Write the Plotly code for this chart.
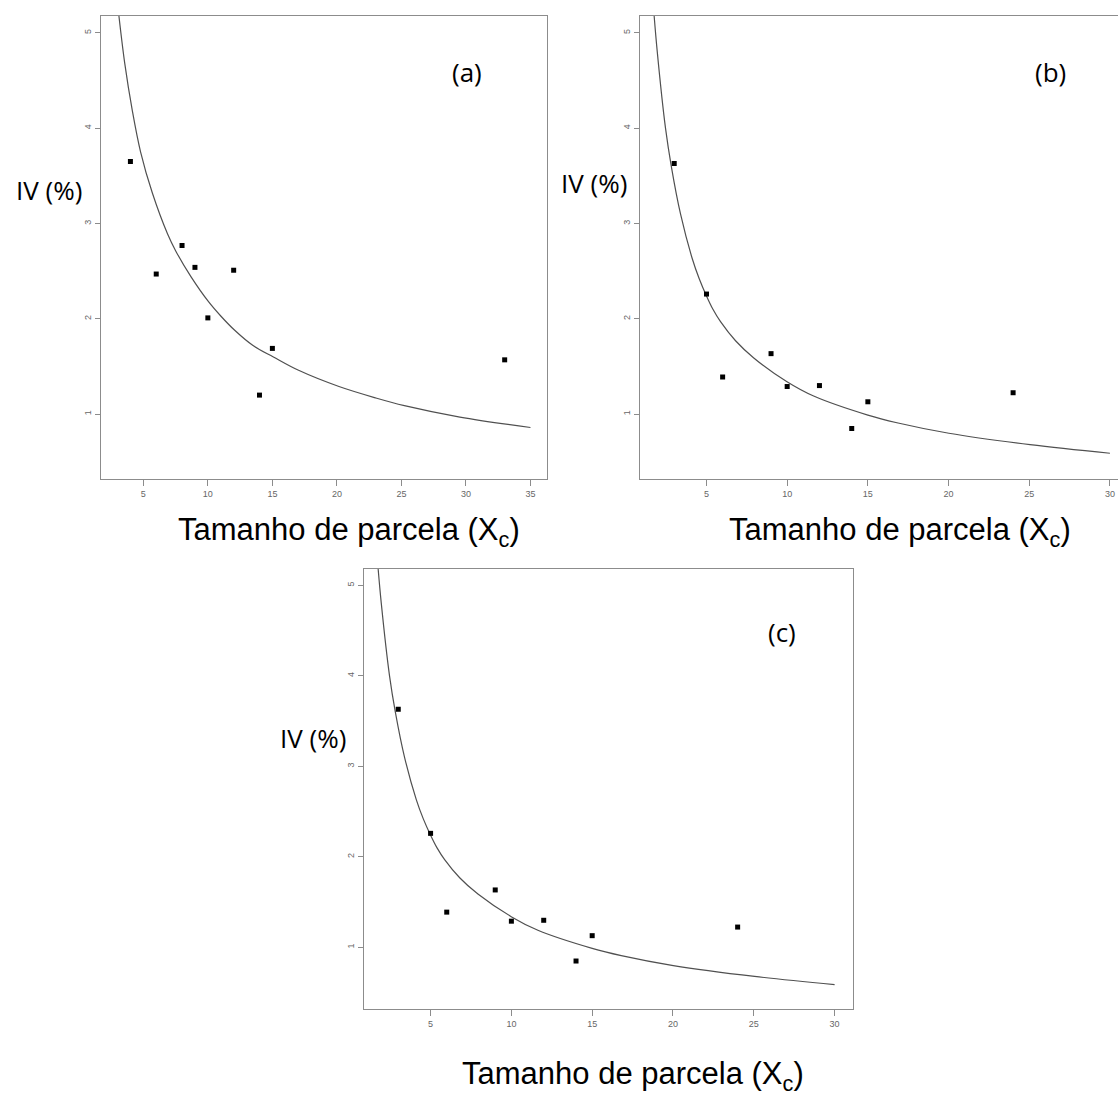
import plotly.graph_objects as go

# ---------------- data ----------------
# panel (a)
a_x = [4, 6, 8, 9, 10, 12, 14, 15, 33]
a_y = [3.65, 2.47, 2.77, 2.54, 2.01, 2.51, 1.20, 1.69, 1.57]
a_curve_x = [3.09, 3.56, 4.14, 4.79, 5.70, 6.88, 7.52, 8.70, 10.05, 11.0, 12.08, 13.5,
             15.08, 17.03, 20.16, 23.02, 25.23, 29.53, 35.0]
a_curve_y = [5.20, 4.68, 4.19, 3.75, 3.32, 2.89, 2.71, 2.44, 2.18, 2.03, 1.88, 1.72,
             1.60, 1.46, 1.29, 1.17, 1.09, 0.97, 0.86]

# panels (b) and (c) (same data)
b_x = [3, 5, 6, 9, 10, 12, 14, 15, 24]
b_y = [3.63, 2.26, 1.39, 1.635, 1.29, 1.30, 0.85, 1.13, 1.225]
b_curve_x = [1.70, 1.95, 2.46, 2.82, 3.39, 4.12, 4.55, 5.0, 5.4, 5.87, 6.8, 7.93, 9.99,
             11.64, 15.0, 16.8, 20.02, 25.05, 30.0]
b_curve_y = [5.30, 4.80, 4.00, 3.60, 3.10, 2.63, 2.42, 2.24, 2.10, 1.97, 1.77, 1.59, 1.34,
             1.19, 0.99, 0.91, 0.80, 0.68, 0.59]

x_ticks_a = [5, 10, 15, 20, 25, 30, 35]
x_ticks_bc = [5, 10, 15, 20, 25, 30]
y_ticks = [1, 2, 3, 4, 5]

x_title = "Tamanho de parcela (X<sub>c</sub>)"
y_title = "IV (%)"
panel_labels = ["(a)", "(b)", "(c)"]

# ---------------- figure ----------------
W, H = 1118, 1098
fig = go.Figure()

panels = [
    (a_x, a_y, a_curve_x, a_curve_y, "x", "y"),
    (b_x, b_y, b_curve_x, b_curve_y, "x2", "y2"),
    (b_x, b_y, b_curve_x, b_curve_y, "x3", "y3"),
]
for px_, py_, cx, cy, xa, ya in panels:
    fig.add_trace(go.Scatter(x=cx, y=cy, mode="lines",
                             line=dict(color="#505050", width=1.2, shape="spline", smoothing=1.0),
                             xaxis=xa, yaxis=ya, showlegend=False, hoverinfo="skip"))
    fig.add_trace(go.Scatter(x=px_, y=py_, mode="markers",
                             marker=dict(symbol="square", size=5, color="black"),
                             xaxis=xa, yaxis=ya, showlegend=False))

axis_line = "#8c8c8c"
tickfont = dict(family="Liberation Sans, Arial, sans-serif", size=9, color="#666666")


def xax(domain, rng, ticks, mirror=True):
    return dict(domain=domain, range=rng, tickvals=ticks, showline=True, linecolor=axis_line,
                linewidth=1.3, mirror=mirror, ticks="outside", ticklen=6, tickcolor=axis_line,
                tickwidth=1, showgrid=False, zeroline=False, tickfont=tickfont, fixedrange=True)


def yax(domain, anchor, mirror=True):
    return dict(domain=domain, range=[0.32, 5.18], tickvals=y_ticks, anchor=anchor, showline=True,
                linecolor=axis_line, linewidth=1.3, mirror=mirror, ticks="outside", ticklen=5,
                tickcolor=axis_line, tickwidth=1, showgrid=False, zeroline=False,
                tickfont=tickfont, tickangle=-90, fixedrange=True)


top_dom = [1 - 479 / H, 1 - 15.7 / H]
bot_dom = [1 - 1009 / H, 1 - 569 / H]

fig.update_layout(
    width=W, height=H,
    margin=dict(l=0, r=0, t=0, b=0),
    paper_bgcolor="white", plot_bgcolor="white",
    xaxis=xax([101 / W, 547 / W], [1.72, 36.28], x_ticks_a) | dict(anchor="y"),
    yaxis=yax(top_dom, "x"),
    xaxis2=xax([640 / W, 1.0], [0.88, 30.5], x_ticks_bc) | dict(anchor="y2"),
    yaxis2=yax(top_dom, "x2", mirror=False),
    xaxis3=xax([364 / W, 852.7 / W], [0.88, 31.12], x_ticks_bc) | dict(anchor="y3"),
    yaxis3=yax(bot_dom, "x3"),
)

label_font = dict(family="Open Sans, Lato, sans-serif", size=26, color="black")
title_font = dict(family="Liberation Sans, Arial, sans-serif", size=31, color="black")

ann = []
# y titles
for (cx, cy) in [(49, 190), (594, 183), (313, 738)]:
    ann.append(dict(text=y_title, x=cx / W, y=1 - cy / H, xref="paper", yref="paper",
                    showarrow=False, font=label_font, xanchor="center", yanchor="middle"))
# panel labels
for lab, (cx, cy) in zip(panel_labels, [(467, 72), (1050, 72), (782, 632)]):
    ann.append(dict(text=lab, x=cx / W, y=1 - cy / H, xref="paper", yref="paper",
                    showarrow=False, font=label_font, xanchor="center", yanchor="middle"))
# x titles
for (cx, cy) in [(349, 532), (900, 532), (633, 1076)]:
    ann.append(dict(text=x_title, x=cx / W, y=1 - cy / H, xref="paper", yref="paper",
                    showarrow=False, font=title_font, xanchor="center", yanchor="middle"))
fig.update_layout(annotations=ann)

fig.write_html("out.html", config={"displayModeBar": False},
               post_script="document.body.style.margin='0';")
